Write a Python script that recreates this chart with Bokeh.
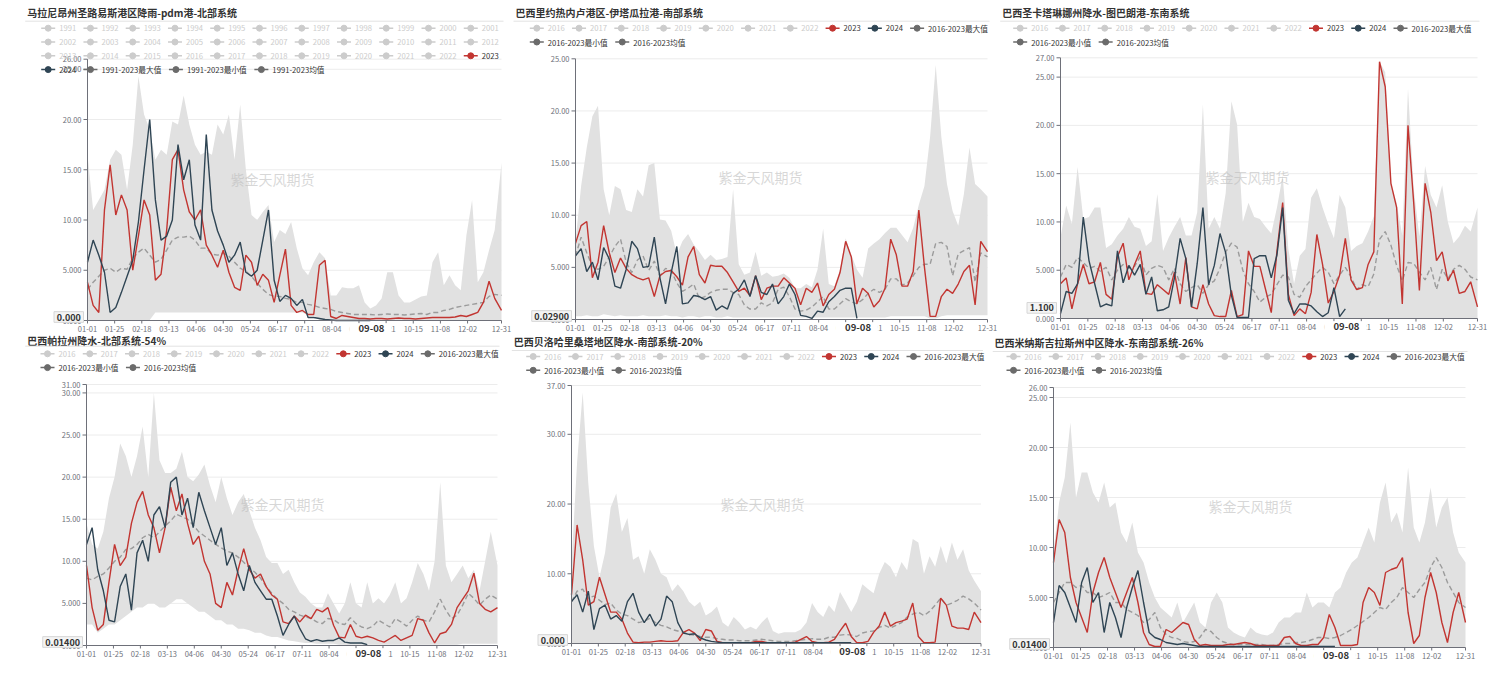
from bokeh.plotting import figure
from bokeh.layouts import column, row
from bokeh.models import Range1d
from bokeh.embed import file_html
from bokeh.resources import INLINE
from bokeh.core.properties import value

FONT = "Noto Sans CJK SC"
RED = "#c23531"
NAVY = "#2f4554"
STAT = "#6b6b6b"
OFF = "#cccccc"
TXT = "#333333"
AX = "#6e7079"

# ---------------- data ----------------
days = [0, 5, 10, 15, 20, 25, 30, 35, 40, 45,
        50, 55, 60, 65, 70, 75, 80, 85, 90, 95,
        100, 105, 110, 115, 120, 125, 130, 135, 140, 145,
        150, 155, 160, 165, 170, 175, 180, 185, 190, 195,
        200, 205, 210, 215, 220, 225, 230, 235, 240, 245,
        250, 255, 260, 265, 270, 275, 280, 285, 290, 295,
        300, 305, 310, 315, 320, 325, 330, 335, 340, 345,
        350, 355, 360, 366]
days_2024 = days[:51]

tick_days = [0, 24, 48, 72, 96, 120, 144, 168, 192, 216, 240, 264, 288, 312, 336, 366]
tick_labels = ["01-01", "01-25", "02-18", "03-13", "04-06", "04-30", "05-24", "06-17",
               "07-11", "08-04", "08-28", "09-21", "10-15", "11-08", "12-02", "12-31"]
pointer_day = 251
pointer_label = "09-08"

years_1991 = ["1991", "1992", "1993", "1994", "1995", "1996", "1997", "1998", "1999", "2000",
              "2001", "2002", "2003", "2004", "2005", "2006", "2007", "2008", "2009", "2010",
              "2011", "2012", "2013", "2014", "2015", "2016", "2017", "2018", "2019", "2020",
              "2021", "2022"]
years_2016 = ["2016", "2017", "2018", "2019", "2020", "2021", "2022"]

# Panel 1: Maranhao / Sao Luis
p1_2023 = [3.8, 1.5, 0.8, 11, 15.5, 10.5, 12.5, 11, 5, 8.4,
           12, 10.5, 4, 4.6, 9, 16, 17, 13, 10.8, 10,
           11, 7.5, 6.5, 5.3, 7, 4.8, 3.3, 3, 6.5, 5.8,
           3.5, 4.6, 4, 1.8, 4.5, 7.1, 1.5, 0.8, 1.0, 0.6,
           0.6, 5.5, 6.0, 0.4, 0.2, 0.5, 0.4, 0.3, 0.2, 0.2,
           0.15, 0.2, 0.2, 0.15, 0.2, 0.25, 0.2, 0.2, 0.15, 0.2,
           0.25, 0.3, 0.3, 0.3, 0.3, 0.35, 0.5, 0.4, 0.6, 0.8,
           1.8, 3.9, 2.2, 1.0]
p1_2024 = [5.8, 8.0, 6.5, 4.8, 0.8, 1.3, 2.8, 4.4, 6.0, 9.8,
           15, 20, 12, 8, 8.4, 10, 17.5, 14, 16, 9.5,
           8, 18.5, 11, 8.9, 7.5, 5.8, 6.5, 7.8, 4.8, 4.4,
           5.0, 8, 11, 4, 1.9, 2.5, 2.2, 1.5, 2.1, 0.3,
           0.3, 0.2, 0.1, 0.05, 0, 0, 0, 0, 0, 0, 0]
p1_max = [16.5, 11, 12, 13, 16, 17, 16.5, 13, 17.5, 24.3,
          20.5, 19, 16, 17, 16.5, 19.8, 19.5, 22.4, 19.5, 17.5,
          16.5, 16.8, 16.5, 19.5, 18.5, 20.5, 16, 21.5, 15, 10.5,
          10, 10.8, 11.5, 7.8, 9, 8.6, 9.8, 7.2, 5.2, 4.5,
          5.8, 6.8, 6.2, 2.5, 2.5, 3.3, 3.2, 3.2, 3.5, 1.8,
          1.2, 1.5, 2.2, 4.8, 4.8, 2.5, 1.8, 1.8, 2.1, 2.4,
          2.5, 5.8, 6.8, 3.5, 4.5, 3.5, 3.0, 8.5, 12, 3.8,
          4.8, 7, 9, 15.7]
p1_min = [0.05, 0.05, 0.05, 0.05, 0.05, 0.05, 0.05, 0.05, 0.05, 0.05,
          0.05, 0.05, 0.8, 0.8, 0.8, 0.8, 0.8, 0.8, 0.8, 0.8,
          0.8, 0.8, 0.8, 0.8, 0.8, 0.8, 0.8, 0.8, 0.8, 0.8,
          0.8, 0.8, 0.8, 0.8, 0.8, 0.8, 0.8, 0.8, 0.8, 0.5,
          0.5, 0.05, 0.05, 0.05, 0.05, 0.05, 0.05, 0.05, 0.05, 0.05,
          0.05, 0.05, 0.05, 0.05, 0.05, 0.05, 0.05, 0.05, 0.05, 0.05,
          0.05, 0.05, 0.05, 0.05, 0.05, 0.05, 0.05, 0.05, 0.05, 0.05,
          0.05, 0.05, 0.05, 0.05]
p1_avg = [3.1, 3.8, 4.4, 5.0, 5.2, 4.8, 5.2, 5.1, 6.2, 6.8,
          7.2, 6.5, 5.8, 6.1, 7.0, 8.0, 8.3, 8.3, 8.4, 8.0,
          7.2, 7.2, 6.6, 6.5, 6.7, 6.4, 5.8, 5.2, 4.9, 4.4,
          3.7, 3.1, 2.6, 2.4, 2.4, 2.2, 2.1, 1.8, 1.8, 1.6,
          1.5, 1.3, 1.2, 1.1, 0.9, 0.8, 0.7, 0.6, 0.6, 0.6,
          0.6, 0.55, 0.6, 0.65, 0.6, 0.6, 0.55, 0.6, 0.65, 0.7,
          0.6, 0.8, 0.8, 1.0, 1.1, 1.3, 1.4, 1.5, 1.6, 1.7,
          1.8, 2.4, 2.6, 2.5]

# Panel 2: Rio de Janeiro / Itaguai
p2_2023 = [7.3, 9.0, 9.4, 4.0, 5.5, 9.0, 6.4, 4.5, 5.9, 4.9,
           4.3, 4.0, 3.8, 4.0, 2.2, 4.2, 4.6, 4.7, 4.1, 3.3,
           6.0, 7.0, 4.3, 3.5, 5.2, 5.1, 5.1, 4.5, 3.6, 2.7,
           3.0, 2.3, 4.2, 1.9, 3.0, 3.2, 3.2, 4.0, 3.5, 3.0,
           1.4, 3.0, 2.6, 3.5, 1.3, 2.4, 2.9, 4.5, 7.5, 6.0,
           1.5, 3.0, 2.5, 1.2, 1.8, 3.0, 7.7, 6.2, 3.2, 3.2,
           4.6, 10.5, 5.0, 0.3, 0.3, 2.2, 2.9, 2.5, 3.4, 4.6,
           5.2, 1.4, 7.5, 6.5]
p2_2024 = [6.1, 6.8, 4.6, 5.5, 3.8, 6.9, 5.8, 3.2, 3.0, 4.8,
           7.5, 6.8, 5.0, 5.1, 7.9, 4.0, 1.5, 4.5, 7.0, 1.5,
           1.6, 2.3, 2.2, 1.9, 2.2, 0.9, 1.3, 1.0, 2.5, 2.9,
           3.8, 2.2, 4.2, 2.6, 2.4, 3.4, 1.5, 2.2, 3.4, 2.4,
           0.4, 0.3, 0.1, 0.8, 0.7, 1.7, 2.2, 2.8, 3.0, 3.0, 0.1]
p2_max = [7.5, 12.8, 16.5, 19.5, 20.5, 12.5, 10, 12.8, 12.5, 10.5,
          10.3, 12.5, 11.8, 14.8, 15, 9.6, 9.5, 8.5, 6.2, 7.5,
          8.2, 7.2, 6.5, 5.7, 6.2, 5.7, 5.8, 6.0, 12.5, 5.3,
          4.3, 4.5, 6.5, 4.2, 4.5, 4.1, 4.2, 4.4, 4.0, 3.0,
          3.0, 3.4, 3.1, 4.8, 8.7, 3.4, 3.2, 4.8, 7.8, 6.2,
          4.8, 4.0, 6.8, 7.3, 7.7, 8.3, 8.8, 8.8, 8.1, 7.4,
          8.8, 11, 12.8, 17.5, 24.4, 17.5, 13, 10.4, 9, 12,
          16.5, 13, 12.5, 11.8]
p2_min = [0.3, 0.3, 0.4, 0.3, 0.3, 0.5, 0.4, 0.3, 0.4, 0.3,
          0.3, 0.3, 0.4, 0.3, 0.3, 0.3, 0.4, 0.3, 0.3, 0.2,
          0.3, 0.3, 0.2, 0.3, 0.3, 0.2, 0.2, 0.3, 0.2, 0.2,
          0.2, 0.2, 0.2, 0.2, 0.2, 0.2, 0.2, 0.2, 0.2, 0.2,
          0.2, 0.2, 0.2, 0.2, 0.2, 0.2, 0.2, 0.2, 0.2, 0.2,
          0.2, 0.2, 0.2, 0.2, 0.2, 0.2, 0.3, 0.3, 0.3, 0.3,
          0.3, 0.3, 0.3, 0.1, 0.1, 0.3, 0.4, 0.4, 0.4, 0.4,
          0.4, 0.4, 0.4, 0.4]
p2_avg = [6.1, 7.9, 6.4, 5.1, 4.8, 5.1, 6.0, 7.0, 7.7, 5.5,
          4.5, 5.7, 6.1, 4.7, 5.6, 4.2, 4.9, 4.7, 3.5, 2.7,
          3.0, 3.4, 2.0, 2.2, 2.6, 2.8, 2.9, 2.9, 2.6, 2.4,
          1.4, 1.0, 1.0, 1.6, 1.3, 1.6, 2.9, 3.1, 2.2, 1.0,
          0.8, 0.9, 1.2, 1.7, 2.2, 1.0, 1.0, 1.5, 2.0, 1.7,
          1.5, 1.9, 2.5, 2.9, 2.6, 2.9, 3.9, 3.9, 3.3, 3.5,
          4.2, 5.0, 5.3, 5.3, 7.3, 7.4, 7.0, 4.2, 6.3, 6.6,
          6.9, 3.6, 6.4, 6.0]

# Panel 3: Santa Catarina / Tubarao
p3_2023 = [3.6, 4.2, 1.0, 3.6, 5.6, 3.6, 3.8, 5.8, 2.5, 2.0,
           6.4, 7.8, 4.0, 5.6, 7.0, 2.6, 2.5, 3.5, 3.0, 2.5,
           4.8, 1.5, 6.3, 1.2, 1.0, 3.5, 1.5, 0.3, 0.2, 0.2,
           2.9, 0.2, 0.4, 7.0, 5.4, 5.4, 3.0, 0.6, 7.0, 12.0,
           2.5, 0.3, 1.0, 0.5, 2.7, 8.7, 5.6, 1.6, 2.8, 4.5,
           8.3, 4.0, 3.0, 3.2, 5.6, 6.9, 26.6, 24.0, 14, 11.5,
           1.5, 20, 12, 2.9, 14, 11, 6, 6.9, 3.9, 5.0,
           2.6, 2.8, 3.8, 1.2]
p3_2024 = [0.5, 2.8, 2.6, 3.6, 10.5, 6.0, 3.6, 1.2, 1.5, 1.3,
           7.0, 3.7, 5.5, 4.5, 5.6, 2.5, 4.3, 0.8, 0.9, 1.2,
           4.2, 8.3, 6.2, 1.2, 5.7, 11.5, 3.5, 5.5, 8.8, 6.8,
           2.4, 0.1, 0.1, 0.1, 6.2, 6.5, 6.5, 4.2, 6.6, 11.5,
           1.9, 0.5, 1.5, 1.5, 1.3, 0.7, 0.2, 0.6, 3.2, 0.2, 1.0]
p3_max = [8.4, 11.7, 9.8, 15.7, 10.3, 10.5, 11.5, 11.5, 7.3, 7.7,
          8.6, 9.3, 10.5, 9.5, 9.3, 7.5, 8.0, 12.9, 7.0, 8.4,
          9.5, 10.5, 8.6, 8.6, 11.0, 22.2, 9.3, 10.5, 9.3, 13.0,
          22.5, 20.1, 10.0, 12.0, 10.5, 10.3, 9.5, 8.8, 11.5, 14.8,
          7.2, 3.6, 6.5, 7.2, 12.5, 13.5, 11.5, 9.8, 8.3, 12.8,
          11.5, 7.0, 7.5, 7.8, 9.0, 10.6, 26.6, 25.5, 14.0, 12.0,
          8.6, 23.8, 13.5, 8.5, 15.8, 12.8, 11.5, 13.8, 10, 7.8,
          8.5, 9.6, 9, 11.5]
p3_min = [0.0, 0.0, 0.0, 0.0, 0.0, 0.0, 0.0, 0.0, 0.0, 0.0,
          0.0, 0.0, 0.0, 0.0, 0.0, 0.0, 0.0, 0.0, 0.0, 0.0,
          0.0, 0.0, 0.0, 0.0, 0.0, 0.0, 0.0, 0.0, 0.0, 0.0,
          0.0, 0.0, 0.0, 0.0, 0.0, 0.0, 0.0, 0.0, 0.0, 0.0,
          0.0, 0.0, 0.0, 0.0, 0.0, 0.0, 0.0, 0.0, 0.0, 0.0,
          0.0, 0.0, 0.0, 0.0, 0.0, 0.0, 0.0, 0.0, 0.0, 0.0,
          0.0, 0.0, 0.0, 0.0, 0.0, 0.0, 0.0, 0.0, 0.0, 0.0,
          0.0, 0.0, 0.0, 0.0]
p3_avg = [4.3, 5.6, 5.3, 6.3, 5.8, 5.2, 5.4, 4.9, 5.3, 4.0,
          5.0, 5.6, 5.2, 5.4, 6.4, 4.5, 5.2, 5.5, 5.3, 4.0,
          5.2, 3.6, 2.8, 3.2, 3.5, 2.6, 3.5, 3.9, 5.2, 6.9,
          7.8, 7.4, 5.0, 3.6, 2.8, 1.7, 2.2, 2.5, 3.5, 4.5,
          4.3, 2.5, 2.2, 3.3, 4.0, 4.7, 5.3, 4.8, 3.6, 4.5,
          5.3, 4.3, 3.0, 3.5, 3.3, 4.6, 8.2, 9.0, 7.6, 5.5,
          3.9, 5.8, 5.7, 4.8, 4.0, 5.3, 3.0, 5.1, 4.1, 5.1,
          5.5, 5.1, 4.3, 4.0]

# Panel 4: Para
p4_2023 = [9.5, 4.5, 1.8, 2.5, 7.5, 12, 9.5, 10.5, 14.5, 17,
           18.3, 15.5, 14, 11, 14, 18.8, 16, 18, 14.5, 12,
           13, 10, 8.5, 5, 4.5, 7.5, 6, 9, 11.5, 9,
           8, 8.5, 7, 6, 5.5, 2.8, 2.6, 3.5, 2.8, 3.6,
           3.2, 4.3, 4.0, 4.5, 2.4, 1.0, 0.9, 2.5, 1.1, 0.9,
           1.1, 0.9, 0.6, 0.4, 0.8, 1.2, 0.6, 0.9, 1.2, 3.2,
           3.0, 1.5, 0.3, 1.4, 1.6, 2.5, 4.5, 5.5, 6.5, 8.6,
           5, 4.3, 4.0, 4.5]
p4_2024 = [12, 14, 9, 6.5, 3.0, 2.8, 7, 8.5, 4.2, 11,
           12.5, 10, 15.5, 16.5, 14, 19.4, 20, 15.5, 17.5, 14,
           18.2, 16, 14, 12, 14, 9.5, 11, 8.5, 6.5, 9.5,
           7.5, 6.5, 5.5, 5.5, 3.5, 1.2, 2.5, 3.5, 2.0, 0.8,
           0.5, 0.7, 0.5, 0.6, 0.6, 0.9, 0.4, 0.3, 0.3, 0.3, 0.1]
p4_max = [14.5, 12, 11.5, 13.5, 17.5, 20, 24, 22.5, 20, 22.5,
          26, 20, 30, 22, 20.5, 20.5, 21, 23, 20, 19.5,
          20.3, 21.5, 19, 17, 20, 17.5, 15.5, 17, 18, 16,
          14, 12.5, 10.5, 9.8, 9.8, 8.5, 9, 7.5, 6.3, 5.8,
          5.0, 4.5, 4.5, 6.2, 5.0, 3.8, 5.0, 7.5, 5.0, 4.5,
          7.5, 5.0, 5.6, 5.0, 6.0, 7.5, 5.0, 5.6, 7.5, 9.8,
          8.5, 6.5, 10, 19.4, 9.5, 7.5, 8.5, 9.5, 8.0, 9.0,
          6.5, 10, 13.5, 9.5]
p4_min = [2.5, 2.5, 1.5, 2.0, 2.5, 2.5, 3.0, 3.5, 4.0, 4.5,
          4.5, 5.0, 5.0, 4.5, 4.5, 5.0, 5.5, 5.5, 5.0, 4.5,
          4.0, 4.0, 3.5, 3.0, 3.0, 2.5, 2.5, 2.0, 2.0, 1.8,
          1.5, 1.5, 1.2, 1.0, 1.0, 0.8, 0.6, 0.5, 0.4, 0.3,
          0.3, 0.2, 0.2, 0.2, 0.2, 0.1, 0.1, 0.1, 0.1, 0.1,
          0.1, 0.1, 0.1, 0.1, 0.1, 0.1, 0.1, 0.1, 0.1, 0.1,
          0.1, 0.1, 0.1, 0.1, 0.1, 0.1, 0.1, 0.2, 0.2, 0.2,
          0.2, 0.2, 0.2, 0.2]
p4_avg = [8, 7.8, 8.2, 8.5, 9.2, 10, 10.5, 11.4, 11.5, 12,
          12.8, 13.2, 12.8, 13.5, 14.2, 14.8, 15.6, 15.3, 15, 14.3,
          13.5, 13, 12.5, 12, 11.6, 11.2, 11, 10.5, 9.9, 9.2,
          8.7, 8.0, 7.0, 6.2, 5.5, 5.0, 4.3, 4.0, 3.6, 3.4,
          3.2, 2.8, 2.6, 3.2, 3.1, 2.6, 2.5, 3.3, 2.6, 2.2,
          2.0, 2.3, 3.0, 2.6, 2.2, 3.2, 2.8, 2.3, 3.0, 3.5,
          3.0, 2.8, 4.0, 5.5, 4.2, 3.2, 3.6, 4.8, 6.2, 5.6,
          4.8, 5.5, 6.0, 5.5]

# Panel 5: Belo Horizonte
p5_2023 = [7, 17, 12, 5.5, 6, 9.5, 7, 4.5, 4.5, 3.5,
           1.5, 0.2, 0.1, 0.2, 0.2, 0.3, 0.4, 0.3, 0.3, 0.4,
           1.6, 2.0, 1.5, 0.4, 2.0, 1.8, 0.3, 0.1, 0.1, 0.1,
           0.1, 0.1, 0.1, 0.3, 0.3, 0.1, 0.1, 0.1, 0.1, 0.1,
           0.2, 0.6, 1.0, 0.3, 0.1, 0.1, 0.2, 0.6, 1.8, 2.9,
           1.0, 0.1, 0.1, 0.3, 1.6, 2.5, 4.5, 2.5, 3.0, 3.2,
           3.5, 5.8, 1.0, 0.1, 0.1, 0.2, 6.5, 5.5, 2.5, 2.2,
           2.2, 2.0, 4.5, 3.0]
p5_2024 = [6, 7.0, 4.5, 7.5, 2.0, 5.0, 5.5, 3.5, 4.0, 3.2,
           6.0, 7.2, 4.5, 3.0, 4.2, 2.5, 3.5, 6.8, 6.0, 3.0,
           1.5, 1.3, 1.4, 0.8, 0.5, 0.3, 0.2, 0.1, 0.1, 0.1,
           0.1, 0.1, 0.1, 0.1, 0.1, 0.1, 0.1, 0.1, 0.1, 0.1,
           0.1, 0.1, 0.1, 0.1, 0.1, 0.1, 0.1, 0.1, 0.1, 0.1, 0.1]
p5_max = [11.5, 26, 36, 23, 14, 9.5, 13, 19.5, 21.5, 16,
          18, 12, 12.5, 10, 13.5, 12, 10, 9.5, 7.5, 8.5,
          7.5, 6.0, 5.3, 6.0, 4.0, 4.5, 5.3, 3.0, 2.4, 3.8,
          3.0, 2.0, 2.4, 2.0, 3.0, 3.8, 1.8, 1.4, 1.6, 1.6,
          1.6, 2.0, 3.0, 5.8, 4.5, 3.8, 5.5, 4.5, 7.4, 6.0,
          4.5, 6.0, 8.5, 7.8, 7.2, 10, 11.7, 11, 9.5, 11.7,
          10.5, 15, 14.5, 10, 12.5, 11, 14, 11.5, 14.5, 12,
          13.5, 10.5, 9, 7.5]
p5_min = [0.0, 0.0, 0.0, 0.0, 0.0, 0.0, 0.0, 0.0, 0.0, 0.0,
          0.0, 0.0, 0.0, 0.0, 0.0, 0.0, 0.0, 0.0, 0.0, 0.0,
          0.0, 0.0, 0.0, 0.0, 0.0, 0.0, 0.0, 0.0, 0.0, 0.0,
          0.0, 0.0, 0.0, 0.0, 0.0, 0.0, 0.0, 0.0, 0.0, 0.0,
          0.0, 0.0, 0.0, 0.0, 0.0, 0.0, 0.0, 0.0, 0.0, 0.0,
          0.0, 0.0, 0.0, 0.0, 0.0, 0.0, 0.0, 0.0, 0.0, 0.0,
          0.0, 0.0, 0.0, 0.0, 0.0, 0.0, 0.0, 0.0, 0.0, 0.0,
          0.0, 0.0, 0.0, 0.0]
p5_avg = [6, 7.5, 7.8, 6.5, 6.8, 6.2, 5.6, 5.8, 4.8, 4.2,
          4.0, 3.5, 3.0, 3.2, 3.6, 3.0, 2.6, 2.4, 2.0, 1.8,
          1.6, 1.3, 1.2, 1.0, 0.9, 0.9, 0.7, 0.6, 0.5, 0.5,
          0.4, 0.4, 0.4, 0.5, 0.6, 0.5, 0.4, 0.3, 0.3, 0.3,
          0.4, 0.5, 0.6, 0.7, 0.6, 0.6, 0.9, 0.9, 1.2, 1.3,
          1.2, 1.0, 1.5, 1.7, 1.8, 2.3, 2.6, 2.2, 2.6, 3.0,
          3.8, 4.2, 4.5, 4.0, 4.6, 5.5, 6.5, 5.5, 5.8, 6.2,
          6.8, 6.4, 5.8, 4.8]

# Panel 6: Minas Gerais central
p6_2023 = [8.5, 12.8, 11.5, 7, 4.5, 3.0, 1.5, 5.5, 7.5, 9,
           7, 5.5, 4.0, 5.5, 7.0, 4.5, 1.5, 0.3, 0.1, 0.1,
           1.8, 1.5, 2.0, 2.5, 2.3, 0.8, 0.2, 0.3, 0.2, 0.2,
           0.2, 0.3, 0.3, 0.4, 0.5, 0.4, 0.2, 0.2, 0.2, 0.2,
           0.2, 1.0, 1.1, 0.4, 0.2, 0.2, 0.3, 0.3, 1.0, 3.3,
           2.0, 0.2, 0.2, 0.2, 0.3, 4.5, 6.0, 5.5, 4.2, 7.5,
           7.8, 8, 9, 3.5, 0.4, 1.2, 5, 7.5, 5.5, 2.5,
           0.5, 3.5, 5.5, 2.5]
p6_2024 = [2.5, 6.2, 5.5, 4.0, 2.5, 6.5, 8.0, 4.5, 5.5, 1.5,
           4.5, 3.0, 1.0, 4.0, 6.0, 7.7, 4.5, 1.5, 1.0, 0.8,
           0.5, 0.4, 0.3, 0.4, 0.3, 0.2, 0.1, 0.1, 0.1, 0.1,
           0.1, 0.1, 0.1, 0.1, 0.1, 0.1, 0.1, 0.1, 0.1, 0.1,
           0.1, 0.1, 0.1, 0.1, 0.1, 0.1, 0.1, 0.1, 0.1, 0.1, 0.1]
p6_max = [9.5, 14.5, 17, 22.5, 15, 17.5, 17.5, 15.5, 14.5, 16.5,
          14, 14.5, 11.5, 10.5, 12.5, 9.5, 8.5, 6.5, 5.0, 4.0,
          3.5, 3.0, 4.5, 2.5, 3.5, 4.5, 2.5, 2.0, 4.5, 5.5,
          4.5, 2.0, 1.5, 1.2, 1.0, 2.0, 1.5, 1.3, 1.2, 1.5,
          2.5, 3.0, 3.0, 3.5, 3.5, 5.5, 4.0, 4.5, 4.5, 4.0,
          5.5, 6.0, 7.5, 8.5, 9.0, 10.5, 12.0, 10.5, 14.5, 16.5,
          12.5, 13.5, 11.5, 18, 12, 10.5, 12.5, 16, 12, 14,
          15, 11.5, 9.5, 8.5]
p6_min = [0.0, 0.0, 0.0, 0.0, 0.0, 0.0, 0.0, 0.0, 0.0, 0.0,
          0.0, 0.0, 0.0, 0.0, 0.0, 0.0, 0.0, 0.0, 0.0, 0.0,
          0.0, 0.0, 0.0, 0.0, 0.0, 0.0, 0.0, 0.0, 0.0, 0.0,
          0.0, 0.0, 0.0, 0.0, 0.0, 0.0, 0.0, 0.0, 0.0, 0.0,
          0.0, 0.0, 0.0, 0.0, 0.0, 0.0, 0.0, 0.0, 0.0, 0.0,
          0.0, 0.0, 0.0, 0.0, 0.0, 0.0, 0.0, 0.0, 0.0, 0.0,
          0.0, 0.0, 0.0, 0.0, 0.0, 0.0, 0.0, 0.0, 0.0, 0.0,
          0.0, 0.0, 0.0, 0.0]
p6_avg = [4.5, 5.5, 6.5, 6.5, 6.0, 6.2, 5.5, 5.5, 5.0, 5.2,
          5.5, 4.5, 4.5, 3.8, 3.5, 3.2, 2.5, 2.8, 3.5, 2.0,
          1.3, 1.0, 0.9, 0.6, 0.5, 0.6, 1.0, 1.8, 1.6, 1.0,
          0.6, 0.4, 0.3, 0.3, 0.3, 0.3, 0.3, 0.3, 0.2, 0.2,
          0.3, 0.4, 0.4, 0.5, 0.5, 0.6, 0.8, 1.0, 1.0, 0.9,
          1.0, 1.2, 1.5, 1.8, 2.2, 2.6, 3.0, 3.5, 4.0, 3.8,
          4.5, 5.0, 6.0, 5.5, 5.0, 5.8, 6.5, 8.0, 9.0, 8.0,
          6.5, 5.5, 4.5, 4.0]

titles = ["马拉尼昂州圣路易斯港区降雨-pdm港-北部系统",
          "巴西里约热内卢港区-伊塔瓜拉港-南部系统",
          "巴西圣卡塔琳娜州降水-图巴朗港-东南系统",
          "巴西帕拉州降水-北部系统-54%",
          "巴西贝洛哈里桑塔地区降水-南部系统-20%",
          "巴西米纳斯吉拉斯州中区降水-东南部系统-26%"]

stats_1991 = ["1991-2023最大值", "1991-2023最小值", "1991-2023均值"]
stats_2016 = ["2016-2023最大值", "2016-2023最小值", "2016-2023均值"]

y_ticks = [[0, 5, 10, 15, 20, 25, 26],
           [0, 5, 10, 15, 20, 25],
           [0, 5, 10, 15, 20, 25, 27],
           [0, 5, 10, 15, 20, 25, 30, 31],
           [0, 10, 20, 30, 37],
           [0, 5, 10, 15, 20, 25, 26]]
y_tick_labels = [["0.000", "5.000", "10.00", "15.00", "20.00", "25.00", "26.00"],
                 ["0.000", "5.000", "10.00", "15.00", "20.00", "25.00"],
                 ["0.000", "5.000", "10.00", "15.00", "20.00", "25.00", "27.00"],
                 ["0.000", "5.000", "10.00", "15.00", "20.00", "25.00", "30.00", "31.00"],
                 ["0.000", "10.00", "20.00", "30.00", "37.00"],
                 ["0.000", "5.000", "10.00", "15.00", "20.00", "25.00", "26.00"]]
y_pointer_values = [0.0, 0.029, 1.1, 0.014, 0.0, 0.014]
y_pointer_labels = ["0.000", "0.02900", "1.100", "0.01400", "0.000", "0.01400"]

series = [(p1_2023, p1_2024, p1_max, p1_min, p1_avg),
          (p2_2023, p2_2024, p2_max, p2_min, p2_avg),
          (p3_2023, p3_2024, p3_max, p3_min, p3_avg),
          (p4_2023, p4_2024, p4_max, p4_min, p4_avg),
          (p5_2023, p5_2024, p5_max, p5_min, p5_avg),
          (p6_2023, p6_2024, p6_max, p6_min, p6_avg)]

# ---------------- layout (pixels inside each figure) ----------------
geom = [
    dict(W=512, H=334, axis_y=320, top_y=58.7, a0=87, a1=501, tx=26.7, ty=12.3, sep=20.7,
         lx=40.7, ly=27.7, lim=505, wm=(272, 178)),
    dict(W=487, H=334, axis_y=319, top_y=58.3, a0=63, a1=475, tx=3, ty=12.3, sep=20.7,
         lx=17.3, ly=27.7, lim=480, wm=(248, 176)),
    dict(W=501, H=334, axis_y=318, top_y=57.3, a0=61, a1=478, tx=2.7, ty=12.3, sep=20.7,
         lx=13.7, ly=27.7, lim=491, wm=(248, 176)),
    dict(W=510, H=340, axis_y=311, top_y=50, a0=86, a1=497, tx=26.7, ty=5.5, sep=11.7,
         lx=40, ly=19.3, lim=505, wm=(282, 169)),
    dict(W=482, H=340, axis_y=309, top_y=51, a0=61, a1=470.5, tx=3.3, ty=6.7, sep=16,
         lx=15.7, ly=22, lim=480, wm=(252, 169)),
    dict(W=508, H=340, axis_y=313, top_y=53, a0=61, a1=473, tx=2, ty=7.7, sep=17,
         lx=14, ly=22, lim=498, wm=(258, 171)),
]


def text_w(s, fs):
    w = 0.0
    for c in s:
        if ord(c) > 0x2E80:
            w += fs
        elif c in "-.":
            w += 0.33 * fs
        elif c.isdigit():
            w += 0.57 * fs
        else:
            w += 0.6 * fs
    return w


def make_panel(i):
    g = geom[i]
    W, H, axis_y = g["W"], g["H"], g["axis_y"]
    ymax = y_ticks[i][-1]
    scale = (axis_y - g["top_y"]) / ymax
    ys, ye = -(H - axis_y) / scale, axis_y / scale
    a0, a1 = g["a0"], g["a1"]
    k = (a1 - a0) / 366.0
    xs, xe = -a0 / k, (W - a0) / k

    p = figure(width=W, height=H, x_range=Range1d(xs, xe), y_range=Range1d(ys, ye),
               toolbar_location=None, output_backend="svg",
               x_axis_location=None, y_axis_location=None,
               min_border=0, min_border_left=0, min_border_right=0, min_border_top=0,
               min_border_bottom=0, outline_line_color=None,
               background_fill_color="white", border_fill_color="white")
    p.extra_x_ranges = {"px": Range1d(0, W)}
    p.extra_y_ranges = {"px": Range1d(H, 0)}
    p.grid.visible = False

    r23, r24, mx, mn, av = series[i]
    ticks = y_ticks[i]
    grid_vals = ticks[1:]

    # horizontal split lines
    p.segment(x0=[0] * len(grid_vals), x1=[366] * len(grid_vals), y0=grid_vals, y1=grid_vals,
              line_color="#ececec", line_width=1)
    # max/min band
    p.varea(x=days, y1=mn, y2=mx, fill_color="#e1e1e1")
    # watermark
    p.text(x=[g["wm"][0]], y=[g["wm"][1]], text=["紫金天风期货"], x_range_name="px", y_range_name="px",
           text_font=value(FONT), text_font_size="14px", text_color="#bdbdbd", text_alpha=0.6,
           text_align="center", text_baseline="middle")
    # series lines
    p.line(days, av, line_color="#9b9b9b", line_width=1.4, line_dash="5 3")
    p.line(days, r23, line_color=RED, line_width=1.4)
    p.line(days_2024, r24, line_color=NAVY, line_width=1.4)

    # ---- x axis ----
    p.segment(x0=[0], x1=[366], y0=[0], y1=[0], line_color=AX, line_width=1)
    p.segment(x0=tick_days, x1=tick_days, y0=[axis_y] * len(tick_days),
              y1=[axis_y + 3] * len(tick_days), y_range_name="px", line_color=AX, line_width=1)
    p.text(x=tick_days, y=[axis_y + 8.3] * len(tick_days), text=tick_labels, y_range_name="px",
           text_font=value(FONT), text_font_size="7.5px", text_color=AX,
           text_align="center", text_baseline="middle")
    # x pointer label (covers the neighbouring labels like the original)
    p.rect(x=[pointer_day - 1], y=[axis_y + 8.3], width=42, height=11, width_units="screen",
           height_units="screen", y_range_name="px", fill_color="white", line_color=None)
    p.text(x=[pointer_day], y=[axis_y + 8.3], text=[pointer_label], y_range_name="px",
           text_font=value(FONT), text_font_size="9.5px", text_font_style="bold",
           text_color=TXT, text_align="center", text_baseline="middle")

    # ---- y axis ----
    p.segment(x0=[0], y0=[0], x1=[0], y1=[ymax], line_color=AX, line_width=1)
    p.segment(x0=[a0 - 4] * len(ticks), x1=[a0] * len(ticks), y0=ticks, y1=ticks,
              x_range_name="px", line_color=AX, line_width=1)
    p.text(x=[a0 - 6] * len(ticks), y=ticks, text=y_tick_labels[i], x_range_name="px",
           text_font=value(FONT), text_font_size="7.5px", text_color=AX,
           text_align="right", text_baseline="middle")
    # y pointer box
    pv, pl = y_pointer_values[i], y_pointer_labels[i]
    cy = axis_y - max(pv * scale, 3.5)
    bw = text_w(pl, 9) + 6
    bh = 10.7
    p.quad(left=[a0 - 4 - bw], right=[a0 - 4], top=[cy - bh / 2], bottom=[cy + bh / 2],
           x_range_name="px", y_range_name="px", fill_color="#f4f4f4", line_color="#d6d6d6",
           line_width=1)
    p.text(x=[a0 - 4 - bw / 2], y=[cy], text=[pl], x_range_name="px", y_range_name="px",
           text_font=value(FONT), text_font_size="9px", text_font_style="bold", text_color=TXT,
           text_align="center", text_baseline="middle")

    # ---- title + separator ----
    p.text(x=[g["tx"]], y=[g["ty"]], text=[titles[i]], x_range_name="px", y_range_name="px",
           text_font=value(FONT), text_font_size="10px", text_font_style="bold",
           text_color=TXT, text_align="left", text_baseline="middle")
    p.segment(x0=[max(g["tx"] - 2, 0)], x1=[a1 + 2], y0=[g["sep"]], y1=[g["sep"]],
              x_range_name="px", y_range_name="px", line_color="#e3e3e3", line_width=1)

    # ---- legend ----
    if i == 0:
        off_years, stats = years_1991, stats_1991
    else:
        off_years, stats = years_2016, stats_2016
    items = [(y, OFF, OFF) for y in off_years]
    items += [("2023", RED, TXT), ("2024", NAVY, TXT)]
    items += [(s, STAT, TXT) for s in stats]
    fs = 7.7
    x, yrow = g["lx"], g["ly"]
    LX, LY, LC, TC, LT = [], [], [], [], []
    for lab, col, tcol in items:
        w = 18 + text_w(lab, fs)
        if x + w > g["lim"] and x > g["lx"]:
            x = g["lx"]
            yrow += 13.8
        LX.append(x)
        LY.append(yrow)
        LC.append(col)
        TC.append(tcol)
        LT.append(lab)
        x += w + 6.7
    p.segment(x0=LX, x1=[v + 14 for v in LX], y0=LY, y1=LY, x_range_name="px", y_range_name="px",
              line_color=LC, line_width=1.5)
    p.scatter(x=[v + 7 for v in LX], y=LY, x_range_name="px", y_range_name="px", size=6,
              marker="circle", fill_color=LC, line_color=LC)
    p.text(x=[v + 18 for v in LX], y=LY, text=LT, x_range_name="px", y_range_name="px",
           text_font=value(FONT), text_font_size="7.7px", text_color=TC,
           text_align="left", text_baseline="middle")
    return p


plots = [make_panel(i) for i in range(6)]
layout = column(row(plots[0], plots[1], plots[2]), row(plots[3], plots[4], plots[5]))

open("out.html", "w").write(file_html(layout, INLINE))
